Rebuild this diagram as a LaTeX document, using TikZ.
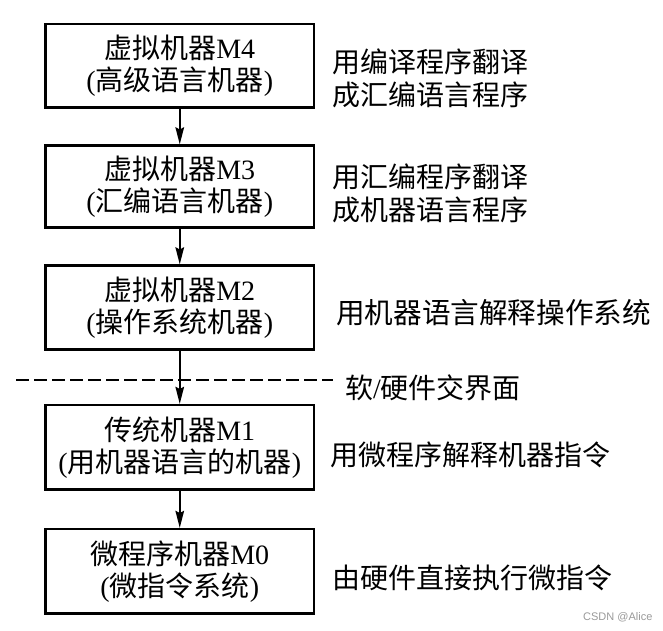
\documentclass[tikz,border=0pt]{standalone}
\usepackage{fontspec}
\setmainfont{Liberation Serif}
\newfontfamily\cjk{Noto Sans CJK SC}
\newfontfamily\wmfont{Liberation Sans}
\usetikzlibrary{arrows.meta}
\begin{document}
\begin{tikzpicture}[x=1pt,y=-1pt,
  machine/.style={draw,line width=2.2pt,minimum width=268.5pt,inner sep=0pt,
    align=center,font=\fontsize{28}{32}\selectfont},
  note/.style={anchor=west,inner sep=0pt,align=left,font=\fontsize{28}{33}\selectfont\cjk},
  arr/.style={line width=2pt,-{Stealth[length=17pt,width=8.5pt,inset=2pt]}},
  border/.style={line width=2.4pt,dash pattern=on 13pt off 5pt}]
\useasboundingbox (0,0) rectangle (663,630);
\node[machine,minimum height=83.5pt] (m4) at (179.75,65.75) {{\cjk 虚拟机器}M4\\({\cjk 高级语言机器})};
\node[machine,minimum height=82pt] (m3) at (179.75,186.5) {{\cjk 虚拟机器}M3\\({\cjk 汇编语言机器})};
\node[machine,minimum height=84pt] (m2) at (179.75,307.5) {{\cjk 虚拟机器}M2\\({\cjk 操作系统机器})};
\node[machine,minimum height=84.5pt] (m1) at (179.75,447.25) {{\cjk 传统机器}M1\\({\cjk 用机器语言的机器})};
\node[machine,minimum height=84.5pt] (m0) at (179.75,571.25) {{\cjk 微程序机器}M0\\({\cjk 微指令系统})};
\draw[arr] (m4) -- (m3);
\draw[arr] (m3) -- (m2);
\draw[arr] (m2) -- (m1);
\draw[arr] (m1) -- (m0);
\coordinate (dl) at (16,380);
\coordinate (dr) at (333,380);
\draw[border] (dl) -- (dr);
\node[note] (t4) at (332,78.5) {用编译程序翻译\\成汇编语言程序};
\node[note] (t3) at (332,193.5) {用汇编程序翻译\\成机器语言程序};
\node[note] (t2) at (336,313) {\fontsize{28.6}{33}\selectfont 用机器语言解释操作系统};
\node[note] (tb) at (345,388) {软{\rmfamily/}硬件交界面};
\node[note] (t1) at (330,455) {用微程序解释机器指令};
\node[note] (t0) at (332,578) {由硬件直接执行微指令};
\node[anchor=west,inner sep=0pt,text=black!40,font=\fontsize{11}{13}\selectfont\wmfont] (wm) at (583,617) {CSDN @Alice};
\end{tikzpicture}
\end{document}
